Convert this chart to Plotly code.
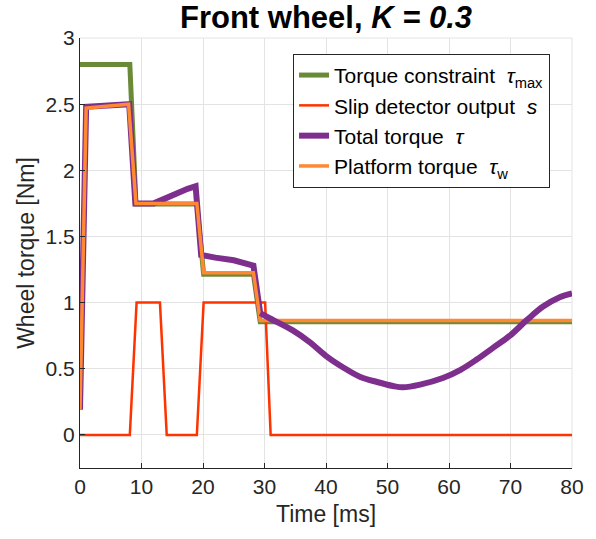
import plotly.graph_objects as go

# Torque constraint tau_max
t_max = [0, 8.1, 9.1, 19.0, 20.1, 28.2, 29.3, 80]
tau_max = [2.8, 2.8, 1.745, 1.745, 1.215, 1.215, 0.855, 0.855]

# Slip detector output s
t_slip = [0, 8.1, 9.2, 13.0, 14.1, 19.0, 20.1, 30.1, 31.0, 80]
slip = [0, 0, 1, 1, 0, 0, 1, 1, 0, 0]

# Total torque tau: stepped part while the slip detector is active
t_total = [0, 1.0, 8.0, 9.0, 12.0, 13.0, 14.5, 16.0, 17.5, 18.8, 19.7, 22.0, 25.0,
           28.2, 29.3]
tau_total = [0.19, 2.48, 2.5, 1.75, 1.75, 1.77, 1.81, 1.84, 1.86, 1.88, 1.36, 1.34, 1.32,
             1.28, 0.92]
# Total torque tau: free oscillation afterwards
t_total_tail = [29.3, 30.9, 34.6, 37.4, 40.2, 42.8, 45.5, 48.3, 50.9, 52.5,
                55.3, 59.0, 61.8, 64.5, 67.2, 69.9, 72.7, 75.3, 78.0, 80.0]
tau_total_tail = [0.92, 0.88, 0.79, 0.70, 0.59, 0.51, 0.44, 0.40, 0.37, 0.36,
                  0.38, 0.43, 0.49, 0.57, 0.66, 0.75, 0.87, 0.97, 1.04, 1.07]

# Platform torque tau_w
t_platform = [0, 1.0, 7.9, 9.1, 19.0, 20.1, 28.2, 29.3, 80]
tau_platform = [0.19, 2.47, 2.5, 1.75, 1.75, 1.225, 1.225, 0.865, 0.865]

x_ticks = list(range(0, 81, 10))
y_ticks = [0, 0.5, 1, 1.5, 2, 2.5, 3]
y_tick_text = ["0", "0.5", "1", "1.5", "2", "2.5", "3"]

axis_color = "#262626"
grid_color = "#E3E3E3"
purple = "#7E2F8E"

fig = go.Figure()
fig.add_trace(go.Scatter(x=t_max, y=tau_max, mode="lines",
                         line=dict(color="#6B8A37", width=5),
                         name="Torque constraint  <i>τ</i><sub>max</sub>"))
fig.add_trace(go.Scatter(x=t_slip, y=slip, mode="lines",
                         line=dict(color="#FF3300", width=2.5),
                         name="Slip detector output  <i>s</i>"))
fig.add_trace(go.Scatter(x=t_total, y=tau_total, mode="lines",
                         line=dict(color=purple, width=6),
                         legendgroup="total",
                         name="Total torque  <i>τ</i>"))
fig.add_trace(go.Scatter(x=t_platform, y=tau_platform, mode="lines",
                         line=dict(color="#FF8833", width=3.5),
                         name="Platform torque  <i>τ</i><sub>w</sub>"))
fig.add_trace(go.Scatter(x=t_total_tail, y=tau_total_tail, mode="lines",
                         line=dict(color=purple, width=6, shape="spline", smoothing=1),
                         legendgroup="total", showlegend=False,
                         name="Total torque  <i>τ</i>"))

# light frame on the top and right edges, same tone as the grid
fig.add_shape(type="line", xref="paper", yref="paper", x0=0, x1=1, y0=1, y1=1,
              line=dict(color=grid_color, width=1), layer="below")
fig.add_shape(type="line", xref="paper", yref="paper", x0=1, x1=1, y0=0, y1=1,
              line=dict(color=grid_color, width=1), layer="below")

fig.update_layout(
    width=596, height=539,
    margin=dict(l=80, r=24, t=38, b=71),
    paper_bgcolor="white", plot_bgcolor="white",
    font=dict(family="Liberation Sans, Arial, sans-serif", color=axis_color, size=21),
    title=dict(text="<b>Front wheel, <i>K = 0.3</i></b>",
               font=dict(size=31, color="black"),
               x=0.547, xanchor="center", xref="container",
               y=1 - 17 / 539, yanchor="middle", yref="container"),
    showlegend=True,
    legend=dict(x=0.433, y=0.963, xanchor="left", yanchor="top",
                bgcolor="white", bordercolor="#262626", borderwidth=1,
                font=dict(size=21, color="black"), itemwidth=30,
                tracegroupgap=0),
    xaxis=dict(range=[0, 80], tickvals=x_ticks, ticks="inside", ticklen=5,
               tickcolor=axis_color, showline=True, linecolor=axis_color, linewidth=1,
               showgrid=True, gridcolor=grid_color, gridwidth=1, zeroline=False,
               title=dict(text="Time [ms]", font=dict(size=23), standoff=8),
               automargin=False),
    yaxis=dict(range=[-0.25, 3], tickvals=y_ticks, ticktext=y_tick_text,
               ticks="inside", ticklen=5, tickcolor=axis_color,
               showline=True, linecolor=axis_color, linewidth=1,
               showgrid=True, gridcolor=grid_color, gridwidth=1, zeroline=False,
               title=dict(text="Wheel torque [Nm]", font=dict(size=23), standoff=4),
               automargin=False),
)

fig.write_html("out.html")
